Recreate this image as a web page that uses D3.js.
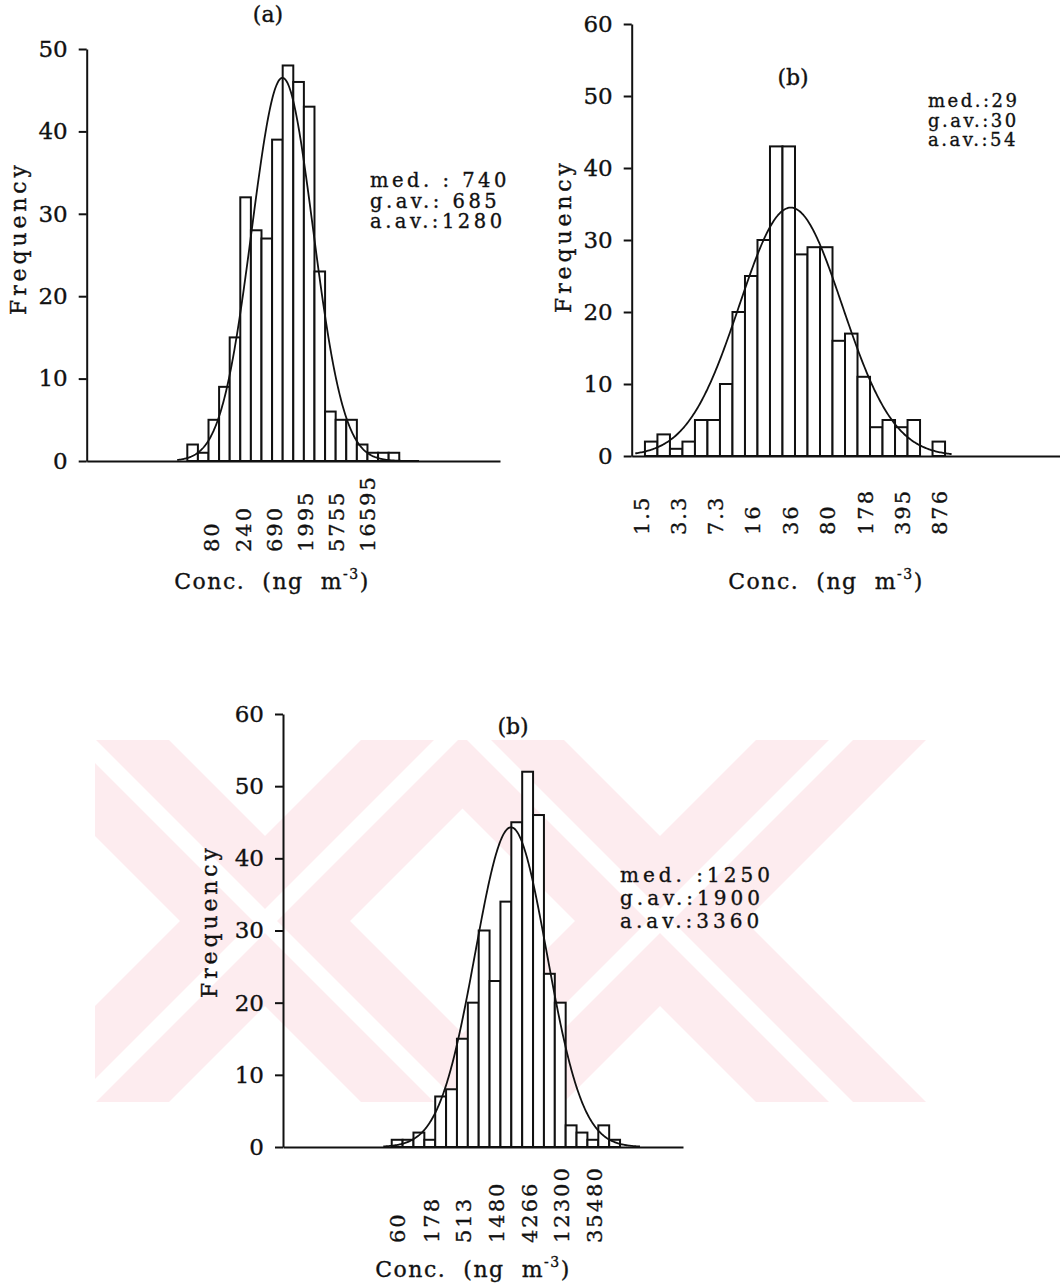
<!DOCTYPE html>
<html>
<head>
<meta charset="utf-8">
<script src="https://cdn.jsdelivr.net/npm/d3@7"></script>
<style>
  body { margin: 0; background: #fff; }
  svg { display: block; }
  text { font-family: "DejaVu Serif", "Liberation Serif", serif; fill: #111; stroke: #111; stroke-width: 0.35px; }
</style>
</head>
<body>
<svg id="chart" width="1060" height="1288"></svg>
<script>
// ---- data: log-normal concentration histograms ----
// frequencies per bin, bins are equal steps of log10(conc)
const freqA = [2, 1, 5, 9, 15, 32, 28, 27, 39, 48, 46, 43, 23, 6, 5, 5, 2, 1, 1, 1];
const ticksA = [80, 240, 690, 1995, 5755, 16595];
const yTicksA = [0, 10, 20, 30, 40, 50];
const statsA = ["med. : 740", "g.av.: 685", "a.av.:1280"];
const binStartA = 1.550, binWidthA = 0.1578;
const fitA = [2.967, 0.455, 46.5];   // mu, sigma (log10), peak frequency

const freqB = [2, 3, 1, 2, 5, 5, 10, 20, 25, 30, 43, 43, 28, 29, 29, 16, 17, 11, 4, 5, 4, 5, 0, 2];
const ticksB = [1.5, 3.3, 7.3, 16, 36, 80, 178, 395, 876];
const yTicksB = [0, 10, 20, 30, 40, 50, 60];
const statsB = ["med.:29", "g.av.:30", "a.av.:54"];
const binStartB = 0.210, binWidthB = 0.1162;
const fitB = [1.565, 0.478, 34.5];

const freqC = [1, 1, 2, 1, 7, 8, 15, 20, 30, 23, 34, 45, 52, 46, 24, 20, 3, 2, 1, 3, 1];
const ticksC = [60, 178, 513, 1480, 4266, 12300, 35480];
const yTicksC = [0, 10, 20, 30, 40, 50, 60];
const statsC = ["med. :1250", "g.av.:1900", "a.av.:3360"];
const binStartC = 1.699, binWidthC = 0.1533;
const fitC = [3.381, 0.505, 44.3];

const svg = d3.select("#chart");

// faint watermark behind the lower plot
function drawMark() {
  const top = 740, bot = 1102, yc = (top + bot) / 2;
  svg.append("defs").append("clipPath").attr("id", "wm")
    .append("rect").attr("x", 95).attr("y", top).attr("width", 845).attr("height", bot - top);
  const g = svg.append("g").attr("clip-path", "url(#wm)");
  const band = (cx, s, h) => {
    const p = [top, bot].map(y => cx + s * (y - yc));
    return [[p[0] - h, top], [p[0] + h, top], [p[1] + h, bot], [p[1] - h, bot]];
  };
  const centres = [265, 660];
  centres.forEach(cx => [1, -1].forEach(s =>
    g.append("polygon").attr("points", band(cx, s, 85).join(" ")).attr("fill", "#fdecef")));
  centres.forEach(cx => [1, -1].forEach(s =>
    g.append("polygon").attr("points", band(cx, s, 12).join(" ")).attr("fill", "#fff")));
}
drawMark();

function panel(o) {
  const g = svg.append("g");
  const x = d3.scaleLinear().domain(o.xDomain).range(o.xRange);
  const y = d3.scaleLinear().domain([0, d3.max(o.yTicks)]).range(o.yRange);

  // bars
  g.selectAll("rect.bar").data(o.freq.map((f, i) => ({ f, i })).filter(d => d.f > 0))
    .enter().append("rect")
    .attr("x", d => x(o.binStart + d.i * o.binWidth))
    .attr("width", d => x(o.binStart + (d.i + 1) * o.binWidth) - x(o.binStart + d.i * o.binWidth))
    .attr("y", d => y(d.f))
    .attr("height", d => y(0) - y(d.f))
    .attr("fill", "#fff").attr("stroke", "#111").attr("stroke-width", 2);

  // fitted normal curve on the log scale
  const [mu, sd, pk] = o.fit;
  const pts = d3.range(o.curve[0], o.curve[1] + 1e-9, 0.01)
    .map(v => [v, pk * Math.exp(-0.5 * ((v - mu) / sd) ** 2)]);
  g.append("path").datum(pts)
    .attr("d", d3.line().x(d => x(d[0])).y(d => y(d[1])))
    .attr("fill", "none").attr("stroke", "#111").attr("stroke-width", 1.8);

  // x axis with rotated concentration labels
  const xa = g.append("g").attr("transform", `translate(0,${y(0)})`)
    .call(d3.axisBottom(x).tickValues(o.ticks.map(Math.log10))
      .tickFormat((d, i) => o.ticks[i]).tickSize(0).tickSizeOuter(0));
  xa.select(".domain").attr("stroke", "#111").attr("stroke-width", 2);
  xa.selectAll("text")
    .attr("x", 0).attr("y", 0).attr("dy", "0.36em")
    .attr("text-anchor", "start")
    .attr("transform", `translate(0,${o.labelOff}) rotate(-90)`)
    .attr("font-size", 21).style("letter-spacing", "2px")
    .attr("font-family", null).attr("fill", "#111");

  // y axis
  const ya = g.append("g").attr("transform", `translate(${o.xRange[0]},0)`)
    .call(d3.axisLeft(y).tickValues(o.yTicks).tickSize(8).tickPadding(11).tickSizeOuter(0));
  ya.select(".domain").attr("stroke", "#111").attr("stroke-width", 2);
  ya.selectAll(".tick line").attr("stroke", "#111").attr("stroke-width", 2);
  ya.selectAll("text").attr("font-size", 23).attr("font-family", null).attr("fill", "#111");

  // labels
  g.append("text").attr("transform", `translate(${o.freqPos[0]},${o.freqPos[1]}) rotate(-90)`)
    .attr("text-anchor", "middle").attr("font-size", 22)
    .attr("textLength", 150).attr("lengthAdjust", "spacing").text("Frequency");

  const c = g.append("text").attr("x", o.concPos[0]).attr("y", o.concPos[1])
    .attr("text-anchor", "middle").attr("font-size", 22)
    .style("white-space", "pre").style("letter-spacing", "1.5px");
  c.append("tspan").text("Conc.  (ng  m");
  c.append("tspan").attr("dy", -10).attr("font-size", 14).text("-3");
  c.append("tspan").attr("dy", 10).text(")");

  g.append("text").attr("x", o.titlePos[0]).attr("y", o.titlePos[1])
    .attr("text-anchor", "middle").attr("font-size", 22).text(o.title);

  g.selectAll("text.stat").data(o.stats).enter().append("text")
    .attr("class", "stat")
    .attr("x", o.statPos[0]).attr("y", (d, i) => o.statPos[1] + i * o.statPos[2])
    .attr("font-size", o.statSize[0]).style("letter-spacing", o.statSize[1] + "px")
    .style("white-space", "pre").text(d => d);
}

panel({
  freq: freqA, ticks: ticksA, yTicks: yTicksA, stats: statsA,
  binStart: binStartA, binWidth: binWidthA, fit: fitA, curve: [1.40, 5.0],
  xDomain: [0.052, 6.206], xRange: [86.7, 500], yRange: [461, 49],
  labelOff: 91, freqPos: [26, 240], concPos: [272, 589],
  title: "(a)", titlePos: [268, 22], statPos: [370, 187, 20.5], statSize: [19.5, 3.5]
});

panel({
  freq: freqB, ticks: ticksB, yTicks: yTicksB, stats: statsB,
  binStart: binStartB, binWidth: binWidthB, fit: fitB, curve: [0.12, 3.06],
  xDomain: [0.087, 4.067], xRange: [631.7, 1060], yRange: [456, 24],
  labelOff: 79, freqPos: [571, 238], concPos: [826, 589],
  title: "(b)", titlePos: [793, 85], statPos: [928, 107, 19.5], statSize: [18, 2.5]
});

panel({
  freq: freqC, ticks: ticksC, yTicks: yTicksC, stats: statsC,
  binStart: binStartC, binWidth: binWidthC, fit: fitC, curve: [1.58, 5.2],
  xDomain: [0.166, 5.806], xRange: [283, 683], yRange: [1147, 714],
  labelOff: 96, freqPos: [217, 923], concPos: [473, 1277],
  title: "(b)", titlePos: [513, 734], statPos: [620, 882, 23], statSize: [20, 4]
});
</script>
</body>
</html>
